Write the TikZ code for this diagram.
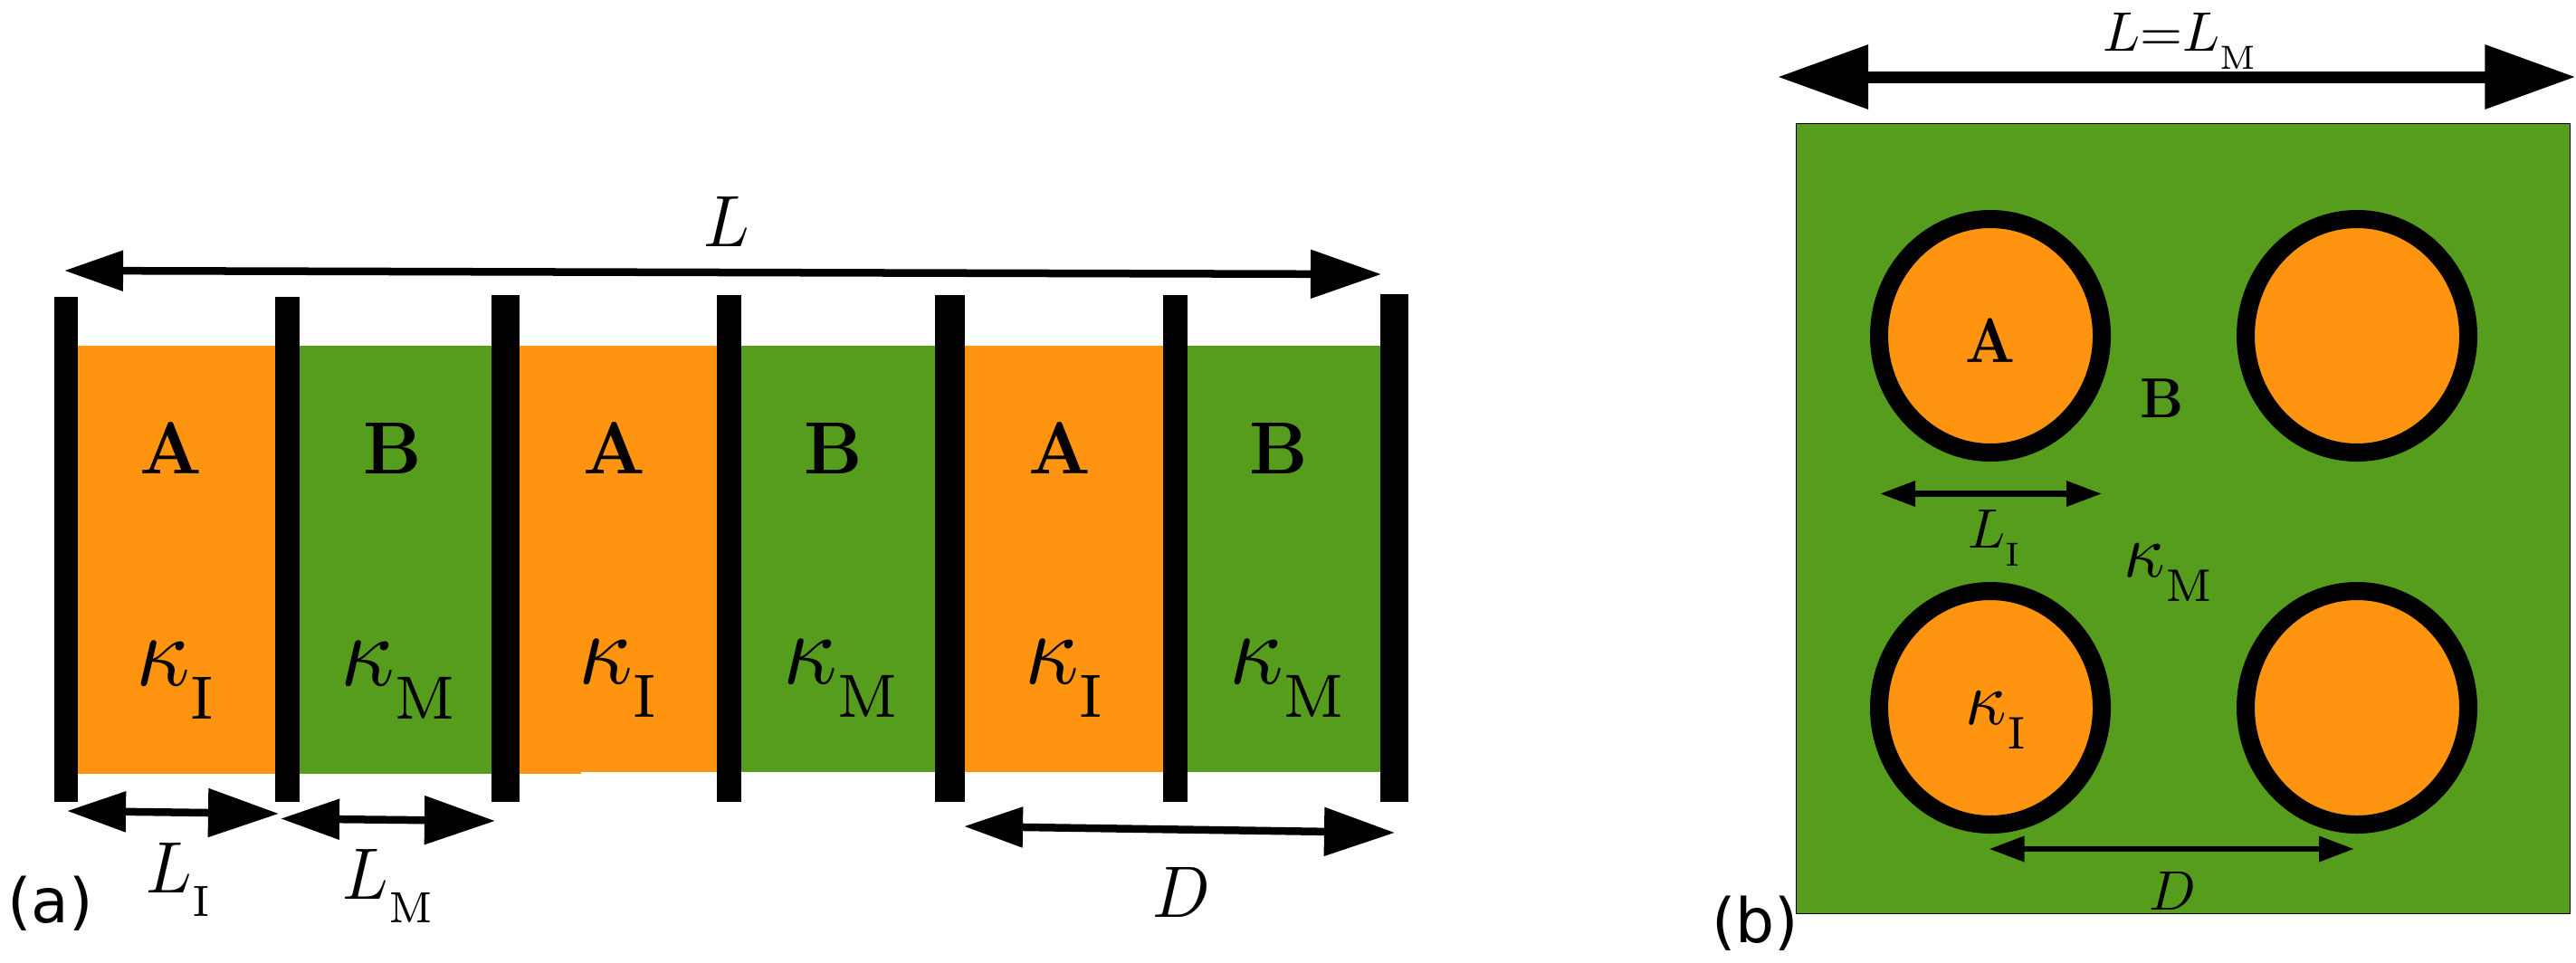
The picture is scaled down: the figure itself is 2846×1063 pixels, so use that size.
\documentclass[tikz,border=0pt]{standalone}
\usepackage{amsmath}
\usepackage{fontspec}
\usetikzlibrary{arrows.meta}
\newfontfamily\tagfont{DejaVu Sans}
\definecolor{incl}{RGB}{254,148,16}
\definecolor{matr}{RGB}{87,157,29}
% symbol with a small upright index set low, as in the picture
\newcommand{\lowsub}[2]{$#1$\raisebox{-3.3pt}{\fontsize{6}{7}\selectfont #2}}
\tikzset{
  x=0.01cm,y=-0.01cm,
  txt/.style={inner sep=0pt,anchor=base west,text=black},
  syma/.style={txt,xscale=2.12,yscale=2.29},
  symb/.style={txt,xscale=1.72,yscale=1.75},
  kapb/.style={txt,xscale=2.25,yscale=2.4},
  cell/.style={inner sep=0pt,anchor=base,font=\bfseries},
  tag/.style={txt,font=\tagfont\fontsize{19.3}{22}\selectfont},
  dimA/.style={line width=0.085cm,{Triangle[length=0.65cm,width=0.43cm]}-{Triangle[length=0.78cm,width=0.52cm]}},
  dimB/.style={line width=0.13cm,{Triangle[length=1cm,width=0.68cm]}-{Triangle[length=1cm,width=0.68cm]}},
  dimC/.style={line width=0.065cm,{Triangle[length=0.39cm,width=0.27cm]}-{Triangle[length=0.39cm,width=0.27cm]}},
}
\begin{document}
\begin{tikzpicture}
\useasboundingbox (0,0) rectangle (2846,1063);
% panel a
\foreach \xa/\xb/\yb in {80/310/855,570/642/855,642/795/853,1060/1290/853}
    \fill[incl] (\xa,381.5) rectangle (\xb,\yb);
\foreach \xa/\xb/\yb in {325/550/855,815/1040/853,1305/1530/853}
    \fill[matr] (\xa,381.5) rectangle (\xb,\yb);
\foreach \xa/\xb/\ya in {60/86/328,304/331/328,543/574/326,792/819/326,1033/1066/326,1285/1312/326,1525/1556/324.5}
    \fill (\xa,\ya) rectangle (\xb,886);
\foreach \x/\t [count=\i] in {189/A,434/B,679/A,921/B,1171/A,1413/B}
    \node[cell,xscale=2.25,yscale=2.32] (cell\i) at (\x,523) {\t};
\foreach \x/\y/\t [count=\i] in {148/757/I,374/757/M,637/755/I,863/755/M,1130/755/I,1356/755/M}
    \node[txt,xscale=2.95,yscale=3.2] (kap\i) at (\x,\y) {\lowsub{\kappa}{\t}};
\coordinate (Lleft) at (71,299);
\coordinate (Lright) at (1526,303);
\draw[dimA] (Lleft) -- (Lright);
\node[syma] (Ltop) at (776,272) {$L$};
\coordinate (Ia) at (74,896);
\coordinate (Ib) at (308,899);
\coordinate (Ma) at (310,904.5);
\coordinate (Mb) at (547,907);
\coordinate (Da) at (1065,913);
\coordinate (Db) at (1541,920);
\draw[dimA] (Ia) -- (Ib);
\draw[dimA] (Ma) -- (Mb);
\draw[dimA] (Da) -- (Db);
\node[syma] (LIa) at (160,986) {\lowsub{L}{I}};
\node[syma] (LMa) at (377,993) {\lowsub{L}{M}};
\node[syma] (Dlaba) at (1272,1013) {$D$};
\node[tag] (taga) at (7.5,1019) {(a)};
% panel b
\draw[fill=matr,line width=0.01cm] (1984,136) rectangle (2839,1009);
\foreach \cx in {2199,2604}
  \foreach \cy in {371,782}
    \draw[fill=incl,line width=0.2cm] (\cx,\cy) ellipse [x radius=123,y radius=129];
\coordinate (Ra) at (1964,85);
\coordinate (Rb) at (2845.5,85);
\draw[dimB] (Ra) -- (Rb);
\node[symb] (Ltopb) at (2322,56) {\lowsub{L{=}L}{M}};
\node[cell,xscale=1.8,yscale=1.98] (cellA) at (2199,400.5) {A};
\node[cell,xscale=1.68,yscale=1.77] (cellB) at (2388.7,461.5) {B};
\coordinate (Ic) at (2077,545.5);
\coordinate (Id) at (2322,545.5);
\coordinate (Dc) at (2197.5,938);
\coordinate (Dd) at (2601,938);
\draw[dimC] (Ic) -- (Id);
\draw[dimC] (Dc) -- (Dd);
\node[symb] (LIb) at (2173,605) {\lowsub{L}{I}};
\node[kapb] (kapM) at (2345,637) {\lowsub{\kappa}{M}};
\node[kapb] (kapI) at (2170,800) {\lowsub{\kappa}{I}};
\node[symb] (Dlabb) at (2373,1005) {$D$};
\node[tag] (tagb) at (1890.5,1041) {(b)};
\end{tikzpicture}
\end{document}
